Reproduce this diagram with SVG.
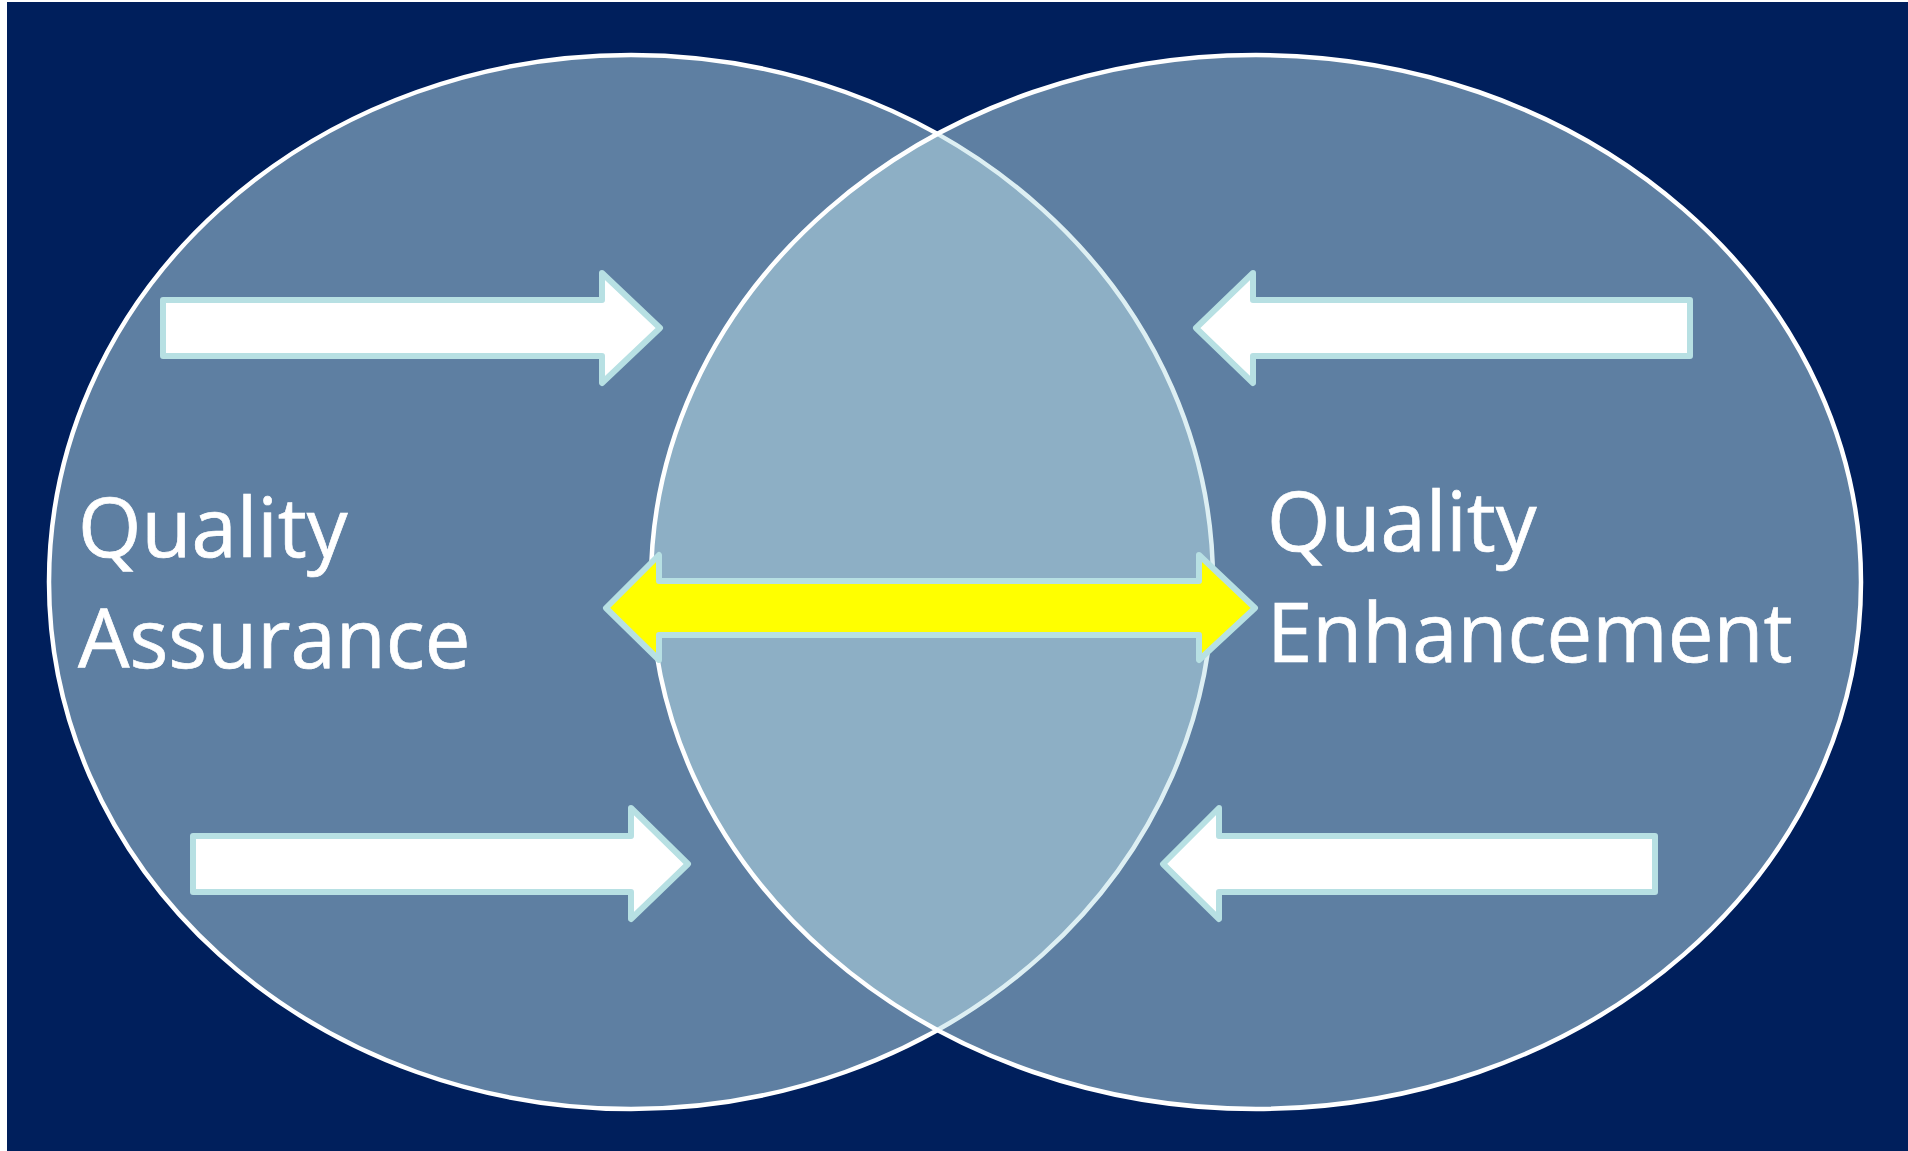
<svg xmlns="http://www.w3.org/2000/svg" width="1908" height="1151" viewBox="0 0 1908 1151">
  <style>
    .circle { fill: #BCDFE7; fill-opacity: 0.5; stroke: #FFFFFF; stroke-width: 4.5; }
    .arrow { fill: #FFFFFF; stroke: #B7E0E3; stroke-width: 6; stroke-linejoin: round; }
    .dbl { fill: #FFFF00; stroke: #B7E0E3; stroke-width: 6; stroke-linejoin: round; }
    .label { font-family: "Open Sans", "Noto Sans", sans-serif; font-size: 81.5px; fill: #FFFFFF; stroke: #FFFFFF; stroke-width: 0.7; }
  </style>
  <rect x="0" y="0" width="1908" height="1151" fill="#FFFFFF"/>
  <rect x="7" y="2" width="1901" height="1149" fill="#001F5C"/>
  <g id="quality-assurance">
    <ellipse class="circle" cx="631" cy="582" rx="582" ry="527"/>
    <text class="label" x="78" y="557">Quality</text>
    <text class="label" x="78" y="668">Assurance</text>
  </g>
  <g id="quality-enhancement">
    <ellipse class="circle" cx="1256" cy="582" rx="605" ry="527"/>
    <text class="label" x="1267" y="551">Quality</text>
    <text class="label" x="1267" y="662">Enhancement</text>
  </g>
  <g id="connectors">
    <path class="arrow" d="M163,300 H602 V273 L660,328 L602,383 V356 H163 Z"/>
    <path class="arrow" d="M1690,300 H1253 V273 L1196,328 L1253,383 V356 H1690 Z"/>
    <path class="arrow" d="M193,836 H631 V808 L688,864 L631,919 V892 H193 Z"/>
    <path class="arrow" d="M1655,836 H1219 V808 L1163,864 L1219,919 V892 H1655 Z"/>
    <path class="dbl" d="M606,608 L659,555 V581 H1199 V555 L1255,608 L1199,660 V635 H659 V660 Z"/>
  </g>
</svg>
